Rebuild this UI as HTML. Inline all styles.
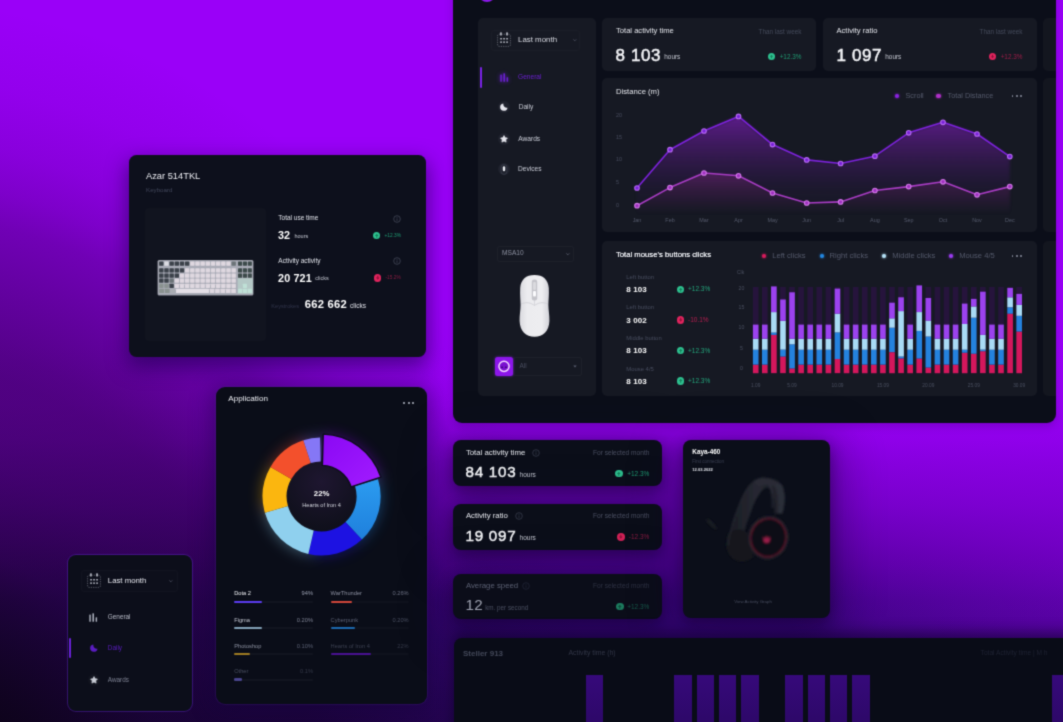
<!DOCTYPE html>
<html>
<head>
<meta charset="utf-8">
<title>Dashboard</title>
<style>
*{box-sizing:border-box;margin:0;padding:0}
html,body{width:1063px;height:722px;overflow:hidden}
body{font-family:"Liberation Sans",sans-serif;color:#fff;position:relative;
background:radial-gradient(ellipse 330px 260px at 1110px 560px,rgba(150,0,245,.38) 0%,rgba(150,0,245,.2) 50%,rgba(150,0,245,0) 100%),radial-gradient(ellipse 800px 1000px at -100px 900px,rgba(10,3,18,1) 15%,rgba(10,3,18,0.84) 23.8%,rgba(10,3,18,0.7) 30%,rgba(10,3,18,0.57) 36.4%,rgba(10,3,18,0.52) 45%,rgba(10,3,18,0.5) 53.6%,rgba(10,3,18,0.48) 56%,rgba(10,3,18,0.39) 62%,rgba(10,3,18,0.29) 68.4%,rgba(10,3,18,0.2) 71.8%,rgba(10,3,18,0.12) 76%,rgba(10,3,18,0.05) 82%,rgba(10,3,18,0) 90%),linear-gradient(180deg,#9a00f8 0%,#9a00f8 48%,#9600f2 56%,#8e00e8 61%,#8200d8 65%,#7400c6 70%,#5c00a6 77%,#44028a 83%,#38047a 88.6%,#2c0464 100%);}
#wrap{position:absolute;left:0;top:0;width:1063px;height:722px;filter:url(#soft)}
.abs{position:absolute}
.t{position:absolute;white-space:nowrap;line-height:1}
svg{position:absolute;overflow:visible}
</style>
</head>
<body>
<svg width="0" height="0" style="position:absolute"><defs><filter id="soft" x="0" y="0" width="100%" height="100%" color-interpolation-filters="sRGB"><feConvolveMatrix order="3" kernelMatrix="1 4 1 4 16 4 1 4 1" divisor="36" edgeMode="duplicate" preserveAlpha="false"/></filter></defs></svg>
<div id="wrap">
<div class="abs" style="left:453.0px;top:-20.0px;width:603.2px;height:442.5px;background:#0b0e19;border-radius:9px;box-shadow:0 3px 8px rgba(30,0,70,.22)"></div>
<div class="abs" style="left:479.0px;top:-14.0px;width:16.0px;height:16.0px;background:#8a18e8;border-radius:16px;"></div>
<div class="abs" style="left:478.0px;top:18.0px;width:118.0px;height:378.0px;background:#161923;border-radius:5px;"></div>
<div class="abs" style="left:491.0px;top:30.0px;width:89.0px;height:21.0px;background:transparent;border-radius:3px;border:1px solid rgba(255,255,255,.018)"></div>
<svg style="left:497.0px;top:32.0px" width="14" height="15" viewBox="0 0 14 15"><g fill="none" stroke="#c9ccd6" stroke-width="0.9" stroke-dasharray="1.2 1.1" opacity=".45"><rect x="0.6" y="2.2" width="12.8" height="12.2" rx="1.6"/></g><g fill="#c9ccd6"><rect x="3.2" y="0.2" width="1.5" height="3.4" rx=".6"/><rect x="9.3" y="0.2" width="1.5" height="3.4" rx=".6"/><rect x="3.3" y="6" width="1.5" height="1.5"/><rect x="6.3" y="6" width="1.5" height="1.5"/><rect x="9.3" y="6" width="1.5" height="1.5"/><rect x="3.3" y="9.4" width="1.5" height="1.5"/><rect x="6.3" y="9.4" width="1.5" height="1.5"/><rect x="9.3" y="9.4" width="1.5" height="1.5"/></g></svg>
<div class="t" style="left:518.0px;transform:translateY(-50%);top:39.7px;font-size:7.9px;color:#d9dbe3;font-weight:400;">Last month</div>
<svg style="left:572.5px;top:39px" width="3.6" height="2.2" viewBox="0 0 5 3"><path d="M0.5 0.5L2.5 2.5L4.5 0.5" fill="none" stroke="#5a5f70" stroke-width="1"/></svg>
<div class="abs" style="left:479.8px;top:66.5px;width:2.2px;height:21.0px;background:#7a22e6;border-radius:1px;"></div>
<svg style="left:500.0px;top:72.5px;filter:drop-shadow(0 0 2px #6a1fd0)" width="9" height="9" viewBox="0 0 9 9"><g fill="#6a1fd0"><rect x="0.3" y="1.5" width="1.5" height="7.2" rx=".5"/><rect x="3.4" y="0.2" width="1.6" height="8.5" rx=".5"/><rect x="6.6" y="4.2" width="1.5" height="4.5" rx=".5"/></g></svg>
<div class="t" style="left:518.0px;transform:translateY(-50%);top:76.8px;font-size:6.6px;color:#6a1fd0;font-weight:400;">General</div>
<div class="abs" style="left:498.0px;top:101.0px;width:12.0px;height:12.0px;background:#1f222d;border-radius:12px;"></div>
<svg style="left:499.7px;top:103.0px" width="8" height="8" viewBox="0 0 8 8"><path d="M3.3 0.5 A3.7 3.7 0 1 0 7.5 4.700 A3.7 3.7 0 0 1 3.3 0.5Z" fill="#e6e7ee"/></svg>
<div class="t" style="left:518.7px;transform:translateY(-50%);top:107.0px;font-size:6.6px;color:#c9ccd6;font-weight:400;">Daily</div>
<div class="abs" style="left:498.0px;top:133.0px;width:12.0px;height:12.0px;background:#1f222d;border-radius:12px;"></div>
<svg style="left:500.0px;top:135.0px" width="8" height="8" viewBox="0 0 8 8"><polygon points="4.00,0.60 5.12,2.66 7.42,3.09 5.81,4.79 6.12,7.11 4.00,6.10 1.88,7.11 2.19,4.79 0.58,3.09 2.88,2.66" fill="#e6e7ee" stroke="#e6e7ee" stroke-width=".7" stroke-linejoin="round"/></svg>
<div class="t" style="left:518.3px;transform:translateY(-50%);top:139.0px;font-size:6.6px;color:#c9ccd6;font-weight:400;">Awards</div>
<div class="abs" style="left:498.0px;top:163.0px;width:12.0px;height:12.0px;background:#1f222d;border-radius:12px;"></div>
<svg style="left:500px;top:163.5px" width="8" height="11" viewBox="0 0 8 11"><rect x="1" y="0.6" width="6" height="9.8" rx="3" fill="none" stroke="#3a3e4c" stroke-width=".8"/><rect x="2.8" y="2.2" width="2.4" height="5" rx="1.2" fill="#eceef4"/></svg>
<div class="t" style="left:518.0px;transform:translateY(-50%);top:169.0px;font-size:6.6px;color:#c9ccd6;font-weight:400;">Devices</div>
<div class="abs" style="left:497.0px;top:246.0px;width:77.0px;height:15.5px;background:transparent;border-radius:2.5px;border:1px solid rgba(255,255,255,.03)"></div>
<div class="t" style="left:502.0px;transform:translateY(-50%);top:253.3px;font-size:6.6px;color:#8d91a1;font-weight:400;">MSA10</div>
<svg style="left:565.5px;top:252.5px" width="3.6" height="2.2" viewBox="0 0 5 3"><path d="M0.5 0.5L2.5 2.5L4.5 0.5" fill="none" stroke="#6a6f80" stroke-width="1"/></svg>
<svg style="left:518px;top:273.5px" width="33" height="64" viewBox="0 0 33 64">
<defs><linearGradient id="mg" x1="0" x2="1"><stop offset="0" stop-color="#d9d9de"/><stop offset=".25" stop-color="#ececef"/><stop offset=".75" stop-color="#ededf0"/><stop offset="1" stop-color="#d2d2d8"/></linearGradient></defs>
<path d="M16.5 1 C8 1 2.8 5.5 2.2 14 C1.8 21 2.6 26 2.6 31 C2.6 36 1.4 41 1.6 47 C1.9 57 8 62.8 16.5 62.8 C25 62.8 31.1 57 31.4 47 C31.6 41 30.4 36 30.4 31 C30.4 26 31.2 21 30.8 14 C30.2 5.5 25 1 16.5 1Z" fill="url(#mg)"/>
<path d="M3 30 C9 27.5 13 29 16.5 31.5 C20 29 24 27.5 30 30" fill="none" stroke="#d0d0d6" stroke-width="0.9"/>
<path d="M16.5 31.5 L16.5 26" stroke="#d0d0d6" stroke-width=".7"/>
<rect x="13.8" y="5.5" width="5.4" height="21" rx="2.2" fill="#c4c4ca"/>
<rect x="15" y="8" width="3" height="8" rx="1.2" fill="#dadade"/>
<rect x="15" y="17" width="3" height="5.5" rx="1" fill="#fbfbfd"/>
</svg>
<div class="abs" style="left:513.0px;top:357.0px;width:69.0px;height:19.0px;background:transparent;border-radius:2.5px;border:1px solid rgba(255,255,255,.035)"></div>
<div class="abs" style="left:495.2px;top:357.0px;width:18.0px;height:18.6px;background:#8c16ea;border-radius:2.5px;box-shadow:0 0 3px rgba(150,40,255,.6)"></div>
<svg style="left:495.2px;top:357px" width="18" height="18.6" viewBox="0 0 18 18.6"><circle cx="9" cy="9.3" r="5.1" fill="#7a10d0" stroke="#f3d8ff" stroke-width="1.5"/><ellipse cx="7.1" cy="10.3" rx="1.1" ry=".8" fill="#3a0870"/><ellipse cx="10.9" cy="10.3" rx="1.1" ry=".8" fill="#3a0870"/></svg>
<div class="t" style="left:519.5px;transform:translateY(-50%);top:366.2px;font-size:6.4px;color:#4a4f60;font-weight:400;">All</div>
<svg style="left:572.5px;top:365px" width="4" height="3" viewBox="0 0 4 3"><path d="M0.3 0.4L2 2.4L3.7 0.4Z" fill="#5a5f70"/></svg>
<div class="abs" style="left:602.0px;top:17.5px;width:214.0px;height:53.5px;background:#161923;border-radius:5px;"></div>
<div class="abs" style="left:823.0px;top:17.5px;width:214.0px;height:53.5px;background:#161923;border-radius:5px;"></div>
<div class="abs" style="left:1042.5px;top:17.5px;width:13.7px;height:53.5px;background:#13161f;border-radius:5px 0 0 5px;"></div>
<div class="abs" style="left:1042.5px;top:78.0px;width:13.7px;height:154.0px;background:#13161f;border-radius:5px 0 0 5px;"></div>
<div class="abs" style="left:1042.5px;top:240.5px;width:13.7px;height:155.5px;background:#13161f;border-radius:5px 0 0 5px;"></div>
<div class="t" style="left:616.0px;transform:translateY(-50%);top:31.3px;font-size:7.6px;color:#e4e6ec;font-weight:400;">Total activity time</div>
<div class="t" style="right:261.5px;transform:translateY(-50%);top:31.5px;font-size:6.4px;color:#444a5b;font-weight:400;">Than last week</div>
<div class="t" style="left:615.5px;transform:translateY(-50%);top:55.2px;font-size:17px;color:#f4f5f8;font-weight:400;letter-spacing:0.6px;-webkit-text-stroke:.5px #f4f5f8;">8 103</div>
<div class="t" style="left:664.3px;transform:translateY(-50%);top:57.4px;font-size:6.4px;color:#c5c8d2;font-weight:400;">hours</div>
<div class="abs" style="left:768.0px;top:53.2px;width:7.0px;height:7.0px;background:#2ec08f;border-radius:7px;"></div>
<svg style="left:768.0px;top:53.2px" width="7.0" height="7.0" viewBox="0 0 8 8"><path d="M4 1.900 L6 4.200 L4.600 4.200 L4.600 6.100 L3.400 6.100 L3.400 4.200 L2 4.200 Z" fill="#15805c"/></svg>
<div class="t" style="right:261.5px;transform:translateY(-50%);top:56.7px;font-size:6.4px;color:#1f9c73;font-weight:400;">+12.3%</div>
<div class="t" style="left:836.5px;transform:translateY(-50%);top:31.3px;font-size:7.6px;color:#e4e6ec;font-weight:400;">Activity ratio</div>
<div class="t" style="right:40.5px;transform:translateY(-50%);top:31.5px;font-size:6.4px;color:#444a5b;font-weight:400;">Than last week</div>
<div class="t" style="left:836.5px;transform:translateY(-50%);top:55.2px;font-size:17px;color:#f4f5f8;font-weight:400;letter-spacing:0.6px;-webkit-text-stroke:.5px #f4f5f8;">1 097</div>
<div class="t" style="left:885.3px;transform:translateY(-50%);top:57.4px;font-size:6.4px;color:#c5c8d2;font-weight:400;">hours</div>
<div class="abs" style="left:989.0px;top:53.2px;width:7.0px;height:7.0px;background:#e0245e;border-radius:7px;"></div>
<svg style="left:989.0px;top:53.2px" width="7.0" height="7.0" viewBox="0 0 8 8"><path d="M4 1.900 L6 4.200 L4.600 4.200 L4.600 6.100 L3.400 6.100 L3.400 4.200 L2 4.200 Z" fill="#8e1238" transform="rotate(180 4 4)"/></svg>
<div class="t" style="right:40.5px;transform:translateY(-50%);top:56.7px;font-size:6.4px;color:#a01c48;font-weight:400;">+12.3%</div>
<div class="abs" style="left:602.0px;top:78.0px;width:435.0px;height:154.0px;background:#161923;border-radius:5px;"></div>
<div class="t" style="left:616.0px;transform:translateY(-50%);top:92.0px;font-size:7.7px;color:#e4e6ec;font-weight:400;">Distance (m)</div>
<div class="abs" style="left:894.9px;top:93.5px;width:4.2px;height:4.2px;background:#8a22e0;border-radius:4.2px;box-shadow:0 0 2.5px #8a22e0"></div>
<div class="t" style="left:905.5px;transform:translateY(-50%);top:95.6px;font-size:7.3px;color:#555a6c;font-weight:400;">Scroll</div>
<div class="abs" style="left:936.4px;top:93.5px;width:4.2px;height:4.2px;background:#b030c8;border-radius:4.2px;box-shadow:0 0 2.5px #b030c8"></div>
<div class="t" style="left:947.5px;transform:translateY(-50%);top:95.6px;font-size:7.3px;color:#555a6c;font-weight:400;">Total Distance</div>
<div class="abs" style="left:1011.6px;top:94.9px;width:1.8px;height:1.8px;background:#8d91a1;border-radius:1.8px;"></div>
<div class="abs" style="left:1015.9px;top:94.9px;width:1.8px;height:1.8px;background:#8d91a1;border-radius:1.8px;"></div>
<div class="abs" style="left:1020.2px;top:94.9px;width:1.8px;height:1.8px;background:#8d91a1;border-radius:1.8px;"></div>
<div class="t" style="left:616.0px;transform:translateY(-50%);top:116.4px;font-size:5.4px;color:#474c5e;font-weight:400;">20</div>
<div class="t" style="left:616.0px;transform:translateY(-50%);top:138.0px;font-size:5.4px;color:#474c5e;font-weight:400;">15</div>
<div class="t" style="left:616.0px;transform:translateY(-50%);top:160.0px;font-size:5.4px;color:#474c5e;font-weight:400;">10</div>
<div class="t" style="left:616.0px;transform:translateY(-50%);top:182.5px;font-size:5.4px;color:#474c5e;font-weight:400;">5</div>
<div class="t" style="left:616.0px;transform:translateY(-50%);top:205.7px;font-size:5.4px;color:#474c5e;font-weight:400;">0</div>
<div class="t" style="left:637.0px;transform:translate(-50%,-50%);top:220.5px;font-size:5.4px;color:#555a6c;font-weight:400;">Jan</div>
<div class="t" style="left:670.0px;transform:translate(-50%,-50%);top:220.5px;font-size:5.4px;color:#555a6c;font-weight:400;">Feb</div>
<div class="t" style="left:704.0px;transform:translate(-50%,-50%);top:220.5px;font-size:5.4px;color:#555a6c;font-weight:400;">Mar</div>
<div class="t" style="left:738.5px;transform:translate(-50%,-50%);top:220.5px;font-size:5.4px;color:#555a6c;font-weight:400;">Apr</div>
<div class="t" style="left:772.5px;transform:translate(-50%,-50%);top:220.5px;font-size:5.4px;color:#555a6c;font-weight:400;">May</div>
<div class="t" style="left:806.7px;transform:translate(-50%,-50%);top:220.5px;font-size:5.4px;color:#555a6c;font-weight:400;">Jun</div>
<div class="t" style="left:840.6px;transform:translate(-50%,-50%);top:220.5px;font-size:5.4px;color:#555a6c;font-weight:400;">Jul</div>
<div class="t" style="left:874.9px;transform:translate(-50%,-50%);top:220.5px;font-size:5.4px;color:#555a6c;font-weight:400;">Aug</div>
<div class="t" style="left:908.7px;transform:translate(-50%,-50%);top:220.5px;font-size:5.4px;color:#555a6c;font-weight:400;">Sep</div>
<div class="t" style="left:943.0px;transform:translate(-50%,-50%);top:220.5px;font-size:5.4px;color:#555a6c;font-weight:400;">Oct</div>
<div class="t" style="left:977.0px;transform:translate(-50%,-50%);top:220.5px;font-size:5.4px;color:#555a6c;font-weight:400;">Nov</div>
<div class="t" style="left:1009.8px;transform:translate(-50%,-50%);top:220.5px;font-size:5.4px;color:#555a6c;font-weight:400;">Dec</div>
<svg style="left:0;top:0" width="1063" height="722" viewBox="0 0 1063 722"><defs><linearGradient id="gu" x1="0" y1="0" x2="0" y2="1"><stop offset="0" stop-color="#8c1ed0" stop-opacity=".6"/><stop offset=".4" stop-color="#6e1aa4" stop-opacity=".34"/><stop offset=".75" stop-color="#521488" stop-opacity=".1"/><stop offset="1" stop-color="#4a1080" stop-opacity="0"/></linearGradient><linearGradient id="gl" x1="0" y1="0" x2="0" y2="1"><stop offset="0" stop-color="#c034b0" stop-opacity=".26"/><stop offset=".7" stop-color="#902488" stop-opacity=".09"/><stop offset="1" stop-color="#601070" stop-opacity="0"/></linearGradient></defs><filter id="fb" x="-5%" y="-40%" width="110%" height="180%" color-interpolation-filters="sRGB"><feGaussianBlur stdDeviation="1.6"/></filter><polygon points="637.0,188.0 670.0,149.7 704.0,131.0 738.5,116.4 772.5,144.6 806.7,159.9 840.6,163.5 874.9,156.2 908.7,132.8 943.0,122.3 977.0,134.0 1009.8,156.6 1009.8,214 637,214" fill="url(#gu)" filter="url(#fb)"/><polygon points="637.0,205.7 670.0,187.6 704.0,173.0 738.5,175.8 772.5,193.0 806.7,203.0 840.6,201.9 874.9,190.5 908.7,186.6 943.0,181.8 977.0,194.8 1009.8,186.6 1009.8,214 637,214" fill="url(#gl)" filter="url(#fb)"/><polyline points="637.0,188.0 670.0,149.7 704.0,131.0 738.5,116.4 772.5,144.6 806.7,159.9 840.6,163.5 874.9,156.2 908.7,132.8 943.0,122.3 977.0,134.0 1009.8,156.6" fill="none" stroke="#7d22dc" stroke-width="1.6" stroke-linejoin="round"/><polyline points="637.0,205.7 670.0,187.6 704.0,173.0 738.5,175.8 772.5,193.0 806.7,203.0 840.6,201.9 874.9,190.5 908.7,186.6 943.0,181.8 977.0,194.8 1009.8,186.6" fill="none" stroke="#a93cc4" stroke-width="1.6" stroke-linejoin="round"/><circle cx="637.0" cy="188.0" r="2.3" fill="#7a22d8" stroke="#b66af2" stroke-width="1.1"/><circle cx="670.0" cy="149.7" r="2.3" fill="#7a22d8" stroke="#b66af2" stroke-width="1.1"/><circle cx="704.0" cy="131.0" r="2.3" fill="#7a22d8" stroke="#b66af2" stroke-width="1.1"/><circle cx="738.5" cy="116.4" r="2.3" fill="#7a22d8" stroke="#b66af2" stroke-width="1.1"/><circle cx="772.5" cy="144.6" r="2.3" fill="#7a22d8" stroke="#b66af2" stroke-width="1.1"/><circle cx="806.7" cy="159.9" r="2.3" fill="#7a22d8" stroke="#b66af2" stroke-width="1.1"/><circle cx="840.6" cy="163.5" r="2.3" fill="#7a22d8" stroke="#b66af2" stroke-width="1.1"/><circle cx="874.9" cy="156.2" r="2.3" fill="#7a22d8" stroke="#b66af2" stroke-width="1.1"/><circle cx="908.7" cy="132.8" r="2.3" fill="#7a22d8" stroke="#b66af2" stroke-width="1.1"/><circle cx="943.0" cy="122.3" r="2.3" fill="#7a22d8" stroke="#b66af2" stroke-width="1.1"/><circle cx="977.0" cy="134.0" r="2.3" fill="#7a22d8" stroke="#b66af2" stroke-width="1.1"/><circle cx="1009.8" cy="156.6" r="2.3" fill="#7a22d8" stroke="#b66af2" stroke-width="1.1"/><circle cx="637.0" cy="205.7" r="2.3" fill="#a030c0" stroke="#d278e8" stroke-width="1.1"/><circle cx="670.0" cy="187.6" r="2.3" fill="#a030c0" stroke="#d278e8" stroke-width="1.1"/><circle cx="704.0" cy="173.0" r="2.3" fill="#a030c0" stroke="#d278e8" stroke-width="1.1"/><circle cx="738.5" cy="175.8" r="2.3" fill="#a030c0" stroke="#d278e8" stroke-width="1.1"/><circle cx="772.5" cy="193.0" r="2.3" fill="#a030c0" stroke="#d278e8" stroke-width="1.1"/><circle cx="806.7" cy="203.0" r="2.3" fill="#a030c0" stroke="#d278e8" stroke-width="1.1"/><circle cx="840.6" cy="201.9" r="2.3" fill="#a030c0" stroke="#d278e8" stroke-width="1.1"/><circle cx="874.9" cy="190.5" r="2.3" fill="#a030c0" stroke="#d278e8" stroke-width="1.1"/><circle cx="908.7" cy="186.6" r="2.3" fill="#a030c0" stroke="#d278e8" stroke-width="1.1"/><circle cx="943.0" cy="181.8" r="2.3" fill="#a030c0" stroke="#d278e8" stroke-width="1.1"/><circle cx="977.0" cy="194.8" r="2.3" fill="#a030c0" stroke="#d278e8" stroke-width="1.1"/><circle cx="1009.8" cy="186.6" r="2.3" fill="#a030c0" stroke="#d278e8" stroke-width="1.1"/></svg>
<div class="abs" style="left:602.0px;top:240.5px;width:435.4px;height:155.5px;background:#161923;border-radius:5px;"></div>
<div class="t" style="left:616.0px;transform:translateY(-50%);top:254.6px;font-size:7.7px;color:#eceef3;font-weight:400;text-shadow:0 0 .4px #eceef3;">Total mouse's buttons clicks</div>
<div class="t" style="left:626.3px;transform:translateY(-50%);top:277.5px;font-size:5.9px;color:#474c5e;font-weight:400;">Left button</div>
<div class="t" style="left:626.3px;transform:translateY(-50%);top:290.0px;font-size:8px;color:#fff;font-weight:700;letter-spacing:0.1px;">8 103</div>
<div class="abs" style="left:676.8px;top:285.7px;width:7.4px;height:7.4px;background:#2ec08f;border-radius:7.4px;"></div>
<svg style="left:676.8px;top:285.7px" width="7.4" height="7.4" viewBox="0 0 8 8"><path d="M4 1.900 L6 4.200 L4.600 4.200 L4.600 6.100 L3.400 6.100 L3.400 4.200 L2 4.200 Z" fill="#15805c"/></svg>
<div class="t" style="left:688.0px;transform:translateY(-50%);top:289.4px;font-size:6.5px;color:#23a57b;font-weight:400;">+12.3%</div>
<div class="t" style="left:626.3px;transform:translateY(-50%);top:308.0px;font-size:5.9px;color:#474c5e;font-weight:400;">Left button</div>
<div class="t" style="left:626.3px;transform:translateY(-50%);top:320.6px;font-size:8px;color:#fff;font-weight:700;letter-spacing:0.1px;">3 002</div>
<div class="abs" style="left:676.8px;top:316.3px;width:7.4px;height:7.4px;background:#e0245e;border-radius:7.4px;"></div>
<svg style="left:676.8px;top:316.3px" width="7.4" height="7.4" viewBox="0 0 8 8"><path d="M4 1.900 L6 4.200 L4.600 4.200 L4.600 6.100 L3.400 6.100 L3.400 4.200 L2 4.200 Z" fill="#8e1238" transform="rotate(180 4 4)"/></svg>
<div class="t" style="left:688.0px;transform:translateY(-50%);top:320.0px;font-size:6.5px;color:#b81e50;font-weight:400;">-10.1%</div>
<div class="t" style="left:626.3px;transform:translateY(-50%);top:339.0px;font-size:5.9px;color:#474c5e;font-weight:400;">Middle button</div>
<div class="t" style="left:626.3px;transform:translateY(-50%);top:351.2px;font-size:8px;color:#fff;font-weight:700;letter-spacing:0.1px;">8 103</div>
<div class="abs" style="left:676.8px;top:346.9px;width:7.4px;height:7.4px;background:#2ec08f;border-radius:7.4px;"></div>
<svg style="left:676.8px;top:346.9px" width="7.4" height="7.4" viewBox="0 0 8 8"><path d="M4 1.900 L6 4.200 L4.600 4.200 L4.600 6.100 L3.400 6.100 L3.400 4.200 L2 4.200 Z" fill="#15805c"/></svg>
<div class="t" style="left:688.0px;transform:translateY(-50%);top:350.6px;font-size:6.5px;color:#23a57b;font-weight:400;">+12.3%</div>
<div class="t" style="left:626.3px;transform:translateY(-50%);top:370.0px;font-size:5.9px;color:#474c5e;font-weight:400;">Mouse 4/5</div>
<div class="t" style="left:626.3px;transform:translateY(-50%);top:381.6px;font-size:8px;color:#fff;font-weight:700;letter-spacing:0.1px;">8 103</div>
<div class="abs" style="left:676.8px;top:377.3px;width:7.4px;height:7.4px;background:#2ec08f;border-radius:7.4px;"></div>
<svg style="left:676.8px;top:377.3px" width="7.4" height="7.4" viewBox="0 0 8 8"><path d="M4 1.900 L6 4.200 L4.600 4.200 L4.600 6.100 L3.400 6.100 L3.400 4.200 L2 4.200 Z" fill="#15805c"/></svg>
<div class="t" style="left:688.0px;transform:translateY(-50%);top:381.0px;font-size:6.5px;color:#23a57b;font-weight:400;">+12.3%</div>
<div class="abs" style="left:761.5px;top:253.7px;width:4.0px;height:4.0px;background:#d81b5c;border-radius:4px;box-shadow:0 0 2.5px #d81b5c"></div>
<div class="t" style="left:772.3px;transform:translateY(-50%);top:255.7px;font-size:7.6px;color:#555a6c;font-weight:400;">Left clicks</div>
<div class="abs" style="left:819.5px;top:253.7px;width:4.0px;height:4.0px;background:#2386e0;border-radius:4px;box-shadow:0 0 2.5px #2386e0"></div>
<div class="t" style="left:829.6px;transform:translateY(-50%);top:255.7px;font-size:7.6px;color:#555a6c;font-weight:400;">Right clicks</div>
<div class="abs" style="left:881.5px;top:253.7px;width:4.0px;height:4.0px;background:#b5e2f6;border-radius:4px;box-shadow:0 0 2.5px #b5e2f6"></div>
<div class="t" style="left:892.3px;transform:translateY(-50%);top:255.7px;font-size:7.6px;color:#555a6c;font-weight:400;">Middle clicks</div>
<div class="abs" style="left:949.0px;top:253.7px;width:4.0px;height:4.0px;background:#9a3cf0;border-radius:4px;box-shadow:0 0 2.5px #9a3cf0"></div>
<div class="t" style="left:959.3px;transform:translateY(-50%);top:255.7px;font-size:7.6px;color:#555a6c;font-weight:400;">Mouse 4/5</div>
<div class="abs" style="left:1011.6px;top:255.1px;width:1.8px;height:1.8px;background:#8d91a1;border-radius:1.8px;"></div>
<div class="abs" style="left:1015.9px;top:255.1px;width:1.8px;height:1.8px;background:#8d91a1;border-radius:1.8px;"></div>
<div class="abs" style="left:1020.2px;top:255.1px;width:1.8px;height:1.8px;background:#8d91a1;border-radius:1.8px;"></div>
<div class="t" style="left:737.0px;transform:translateY(-50%);top:271.6px;font-size:5px;color:#4a4f60;font-weight:400;">Clk</div>
<div class="t" style="left:741.5px;transform:translate(-50%,-50%);top:288.6px;font-size:5.2px;color:#4a4f60;font-weight:400;">20</div>
<div class="t" style="left:741.5px;transform:translate(-50%,-50%);top:308.4px;font-size:5.2px;color:#4a4f60;font-weight:400;">15</div>
<div class="t" style="left:741.5px;transform:translate(-50%,-50%);top:328.3px;font-size:5.2px;color:#4a4f60;font-weight:400;">10</div>
<div class="t" style="left:741.5px;transform:translate(-50%,-50%);top:348.7px;font-size:5.2px;color:#4a4f60;font-weight:400;">5</div>
<div class="t" style="left:741.5px;transform:translate(-50%,-50%);top:369.4px;font-size:5.2px;color:#4a4f60;font-weight:400;">0</div>
<div class="t" style="left:755.7px;transform:translate(-50%,-50%);top:385.8px;font-size:4.8px;color:#4a4f60;font-weight:400;">1.09</div>
<div class="t" style="left:792.0px;transform:translate(-50%,-50%);top:385.8px;font-size:4.8px;color:#4a4f60;font-weight:400;">5.09</div>
<div class="t" style="left:837.5px;transform:translate(-50%,-50%);top:385.8px;font-size:4.8px;color:#4a4f60;font-weight:400;">10.09</div>
<div class="t" style="left:882.9px;transform:translate(-50%,-50%);top:385.8px;font-size:4.8px;color:#4a4f60;font-weight:400;">15.09</div>
<div class="t" style="left:928.3px;transform:translate(-50%,-50%);top:385.8px;font-size:4.8px;color:#4a4f60;font-weight:400;">20.09</div>
<div class="t" style="left:973.8px;transform:translate(-50%,-50%);top:385.8px;font-size:4.8px;color:#4a4f60;font-weight:400;">25.09</div>
<div class="t" style="left:1019.2px;transform:translate(-50%,-50%);top:385.8px;font-size:4.8px;color:#4a4f60;font-weight:400;">30.09</div>
<svg style="left:0;top:0" width="1063" height="722" viewBox="0 0 1063 722"><rect x="752.90" y="287.0" width="5.6" height="86.2" fill="#26143c"/><rect x="752.90" y="364.7" width="5.6" height="8.5" fill="#d4175c"/><rect x="752.90" y="349.6" width="5.6" height="15.0" fill="#2482de"/><rect x="752.90" y="338.7" width="5.6" height="11.0" fill="#a9dbf5"/><rect x="752.90" y="324.6" width="5.6" height="14.1" fill="#9b42ee"/><rect x="761.99" y="287.0" width="5.6" height="86.2" fill="#26143c"/><rect x="761.99" y="364.7" width="5.6" height="8.5" fill="#d4175c"/><rect x="761.99" y="349.6" width="5.6" height="15.0" fill="#2482de"/><rect x="761.99" y="338.7" width="5.6" height="11.0" fill="#a9dbf5"/><rect x="761.99" y="324.6" width="5.6" height="14.1" fill="#9b42ee"/><rect x="771.07" y="287.0" width="5.6" height="86.2" fill="#26143c"/><rect x="771.07" y="334.9" width="5.6" height="38.2" fill="#d4175c"/><rect x="771.07" y="332.4" width="5.6" height="2.5" fill="#2482de"/><rect x="771.07" y="312.1" width="5.6" height="20.4" fill="#a9dbf5"/><rect x="771.07" y="286.4" width="5.6" height="25.7" fill="#9b42ee"/><rect x="780.16" y="287.0" width="5.6" height="86.2" fill="#26143c"/><rect x="780.16" y="356.5" width="5.6" height="16.6" fill="#d4175c"/><rect x="780.16" y="349.6" width="5.6" height="6.9" fill="#2482de"/><rect x="780.16" y="320.8" width="5.6" height="28.8" fill="#a9dbf5"/><rect x="780.16" y="299.5" width="5.6" height="21.3" fill="#9b42ee"/><rect x="789.24" y="287.0" width="5.6" height="86.2" fill="#26143c"/><rect x="789.24" y="368.4" width="5.6" height="4.7" fill="#d4175c"/><rect x="789.24" y="344.3" width="5.6" height="24.1" fill="#2482de"/><rect x="789.24" y="338.7" width="5.6" height="5.6" fill="#a9dbf5"/><rect x="789.24" y="292.3" width="5.6" height="46.4" fill="#9b42ee"/><rect x="798.33" y="287.0" width="5.6" height="86.2" fill="#26143c"/><rect x="798.33" y="364.7" width="5.6" height="8.5" fill="#d4175c"/><rect x="798.33" y="349.6" width="5.6" height="15.0" fill="#2482de"/><rect x="798.33" y="338.7" width="5.6" height="11.0" fill="#a9dbf5"/><rect x="798.33" y="324.6" width="5.6" height="14.1" fill="#9b42ee"/><rect x="807.42" y="287.0" width="5.6" height="86.2" fill="#26143c"/><rect x="807.42" y="364.7" width="5.6" height="8.5" fill="#d4175c"/><rect x="807.42" y="349.6" width="5.6" height="15.0" fill="#2482de"/><rect x="807.42" y="338.7" width="5.6" height="11.0" fill="#a9dbf5"/><rect x="807.42" y="324.6" width="5.6" height="14.1" fill="#9b42ee"/><rect x="816.50" y="287.0" width="5.6" height="86.2" fill="#26143c"/><rect x="816.50" y="364.7" width="5.6" height="8.5" fill="#d4175c"/><rect x="816.50" y="349.6" width="5.6" height="15.0" fill="#2482de"/><rect x="816.50" y="338.7" width="5.6" height="11.0" fill="#a9dbf5"/><rect x="816.50" y="324.6" width="5.6" height="14.1" fill="#9b42ee"/><rect x="825.59" y="287.0" width="5.6" height="86.2" fill="#26143c"/><rect x="825.59" y="364.7" width="5.6" height="8.5" fill="#d4175c"/><rect x="825.59" y="349.6" width="5.6" height="15.0" fill="#2482de"/><rect x="825.59" y="338.7" width="5.6" height="11.0" fill="#a9dbf5"/><rect x="825.59" y="324.6" width="5.6" height="14.1" fill="#9b42ee"/><rect x="834.67" y="287.0" width="5.6" height="86.2" fill="#26143c"/><rect x="834.67" y="359.0" width="5.6" height="14.1" fill="#d4175c"/><rect x="834.67" y="332.4" width="5.6" height="26.6" fill="#2482de"/><rect x="834.67" y="313.6" width="5.6" height="18.8" fill="#a9dbf5"/><rect x="834.67" y="288.6" width="5.6" height="25.1" fill="#9b42ee"/><rect x="843.76" y="287.0" width="5.6" height="86.2" fill="#26143c"/><rect x="843.76" y="364.7" width="5.6" height="8.5" fill="#d4175c"/><rect x="843.76" y="349.6" width="5.6" height="15.0" fill="#2482de"/><rect x="843.76" y="338.7" width="5.6" height="11.0" fill="#a9dbf5"/><rect x="843.76" y="324.6" width="5.6" height="14.1" fill="#9b42ee"/><rect x="852.85" y="287.0" width="5.6" height="86.2" fill="#26143c"/><rect x="852.85" y="364.7" width="5.6" height="8.5" fill="#d4175c"/><rect x="852.85" y="349.6" width="5.6" height="15.0" fill="#2482de"/><rect x="852.85" y="338.7" width="5.6" height="11.0" fill="#a9dbf5"/><rect x="852.85" y="324.6" width="5.6" height="14.1" fill="#9b42ee"/><rect x="861.93" y="287.0" width="5.6" height="86.2" fill="#26143c"/><rect x="861.93" y="364.7" width="5.6" height="8.5" fill="#d4175c"/><rect x="861.93" y="349.6" width="5.6" height="15.0" fill="#2482de"/><rect x="861.93" y="338.7" width="5.6" height="11.0" fill="#a9dbf5"/><rect x="861.93" y="324.6" width="5.6" height="14.1" fill="#9b42ee"/><rect x="871.02" y="287.0" width="5.6" height="86.2" fill="#26143c"/><rect x="871.02" y="364.7" width="5.6" height="8.5" fill="#d4175c"/><rect x="871.02" y="349.6" width="5.6" height="15.0" fill="#2482de"/><rect x="871.02" y="338.7" width="5.6" height="11.0" fill="#a9dbf5"/><rect x="871.02" y="324.6" width="5.6" height="14.1" fill="#9b42ee"/><rect x="880.10" y="287.0" width="5.6" height="86.2" fill="#26143c"/><rect x="880.10" y="364.7" width="5.6" height="8.5" fill="#d4175c"/><rect x="880.10" y="349.6" width="5.6" height="15.0" fill="#2482de"/><rect x="880.10" y="338.7" width="5.6" height="11.0" fill="#a9dbf5"/><rect x="880.10" y="324.6" width="5.6" height="14.1" fill="#9b42ee"/><rect x="889.19" y="287.0" width="5.6" height="86.2" fill="#26143c"/><rect x="889.19" y="352.2" width="5.6" height="21.0" fill="#d4175c"/><rect x="889.19" y="327.7" width="5.6" height="24.4" fill="#2482de"/><rect x="889.19" y="318.3" width="5.6" height="9.4" fill="#a9dbf5"/><rect x="889.19" y="302.7" width="5.6" height="15.7" fill="#9b42ee"/><rect x="898.28" y="287.0" width="5.6" height="86.2" fill="#26143c"/><rect x="898.28" y="358.4" width="5.6" height="14.7" fill="#d4175c"/><rect x="898.28" y="356.5" width="5.6" height="1.9" fill="#2482de"/><rect x="898.28" y="311.1" width="5.6" height="45.4" fill="#a9dbf5"/><rect x="898.28" y="297.3" width="5.6" height="13.8" fill="#9b42ee"/><rect x="907.36" y="287.0" width="5.6" height="86.2" fill="#26143c"/><rect x="907.36" y="364.7" width="5.6" height="8.5" fill="#d4175c"/><rect x="907.36" y="349.6" width="5.6" height="15.0" fill="#2482de"/><rect x="907.36" y="338.7" width="5.6" height="11.0" fill="#a9dbf5"/><rect x="907.36" y="324.6" width="5.6" height="14.1" fill="#9b42ee"/><rect x="916.45" y="287.0" width="5.6" height="86.2" fill="#26143c"/><rect x="916.45" y="358.4" width="5.6" height="14.7" fill="#d4175c"/><rect x="916.45" y="330.9" width="5.6" height="27.6" fill="#2482de"/><rect x="916.45" y="312.1" width="5.6" height="18.8" fill="#a9dbf5"/><rect x="916.45" y="285.4" width="5.6" height="26.6" fill="#9b42ee"/><rect x="925.53" y="287.0" width="5.6" height="86.2" fill="#26143c"/><rect x="925.53" y="367.5" width="5.6" height="5.6" fill="#d4175c"/><rect x="925.53" y="336.5" width="5.6" height="31.0" fill="#2482de"/><rect x="925.53" y="320.5" width="5.6" height="16.0" fill="#a9dbf5"/><rect x="925.53" y="298.0" width="5.6" height="22.6" fill="#9b42ee"/><rect x="934.62" y="287.0" width="5.6" height="86.2" fill="#26143c"/><rect x="934.62" y="364.7" width="5.6" height="8.5" fill="#d4175c"/><rect x="934.62" y="349.6" width="5.6" height="15.0" fill="#2482de"/><rect x="934.62" y="338.7" width="5.6" height="11.0" fill="#a9dbf5"/><rect x="934.62" y="324.6" width="5.6" height="14.1" fill="#9b42ee"/><rect x="943.71" y="287.0" width="5.6" height="86.2" fill="#26143c"/><rect x="943.71" y="364.7" width="5.6" height="8.5" fill="#d4175c"/><rect x="943.71" y="349.6" width="5.6" height="15.0" fill="#2482de"/><rect x="943.71" y="338.7" width="5.6" height="11.0" fill="#a9dbf5"/><rect x="943.71" y="324.6" width="5.6" height="14.1" fill="#9b42ee"/><rect x="952.79" y="287.0" width="5.6" height="86.2" fill="#26143c"/><rect x="952.79" y="364.7" width="5.6" height="8.5" fill="#d4175c"/><rect x="952.79" y="349.6" width="5.6" height="15.0" fill="#2482de"/><rect x="952.79" y="338.7" width="5.6" height="11.0" fill="#a9dbf5"/><rect x="952.79" y="324.6" width="5.6" height="14.1" fill="#9b42ee"/><rect x="961.88" y="287.0" width="5.6" height="86.2" fill="#26143c"/><rect x="961.88" y="352.8" width="5.6" height="20.4" fill="#d4175c"/><rect x="961.88" y="349.6" width="5.6" height="3.1" fill="#2482de"/><rect x="961.88" y="324.0" width="5.6" height="25.7" fill="#a9dbf5"/><rect x="961.88" y="303.6" width="5.6" height="20.4" fill="#9b42ee"/><rect x="970.96" y="287.0" width="5.6" height="86.2" fill="#26143c"/><rect x="970.96" y="353.7" width="5.6" height="19.4" fill="#d4175c"/><rect x="970.96" y="317.7" width="5.6" height="36.0" fill="#2482de"/><rect x="970.96" y="306.4" width="5.6" height="11.3" fill="#a9dbf5"/><rect x="970.96" y="298.9" width="5.6" height="7.5" fill="#9b42ee"/><rect x="980.05" y="287.0" width="5.6" height="86.2" fill="#26143c"/><rect x="980.05" y="351.2" width="5.6" height="21.9" fill="#d4175c"/><rect x="980.05" y="349.6" width="5.6" height="1.6" fill="#2482de"/><rect x="980.05" y="334.9" width="5.6" height="14.7" fill="#a9dbf5"/><rect x="980.05" y="291.7" width="5.6" height="43.2" fill="#9b42ee"/><rect x="989.14" y="287.0" width="5.6" height="86.2" fill="#26143c"/><rect x="989.14" y="364.7" width="5.6" height="8.5" fill="#d4175c"/><rect x="989.14" y="349.6" width="5.6" height="15.0" fill="#2482de"/><rect x="989.14" y="338.7" width="5.6" height="11.0" fill="#a9dbf5"/><rect x="989.14" y="324.6" width="5.6" height="14.1" fill="#9b42ee"/><rect x="998.22" y="287.0" width="5.6" height="86.2" fill="#26143c"/><rect x="998.22" y="364.7" width="5.6" height="8.5" fill="#d4175c"/><rect x="998.22" y="349.6" width="5.6" height="15.0" fill="#2482de"/><rect x="998.22" y="338.7" width="5.6" height="11.0" fill="#a9dbf5"/><rect x="998.22" y="324.6" width="5.6" height="14.1" fill="#9b42ee"/><rect x="1007.31" y="287.0" width="5.6" height="86.2" fill="#26143c"/><rect x="1007.31" y="313.6" width="5.6" height="59.5" fill="#d4175c"/><rect x="1007.31" y="307.4" width="5.6" height="6.3" fill="#2482de"/><rect x="1007.31" y="297.3" width="5.6" height="10.0" fill="#a9dbf5"/><rect x="1007.31" y="287.9" width="5.6" height="9.4" fill="#9b42ee"/><rect x="1016.39" y="287.0" width="5.6" height="86.2" fill="#26143c"/><rect x="1016.39" y="331.5" width="5.6" height="41.7" fill="#d4175c"/><rect x="1016.39" y="315.8" width="5.6" height="15.7" fill="#2482de"/><rect x="1016.39" y="304.8" width="5.6" height="11.0" fill="#a9dbf5"/><rect x="1016.39" y="293.9" width="5.6" height="11.0" fill="#9b42ee"/></svg>
<div class="abs" style="left:129.3px;top:155.0px;width:297.0px;height:202.0px;background:#0d101c;border-radius:7.5px;box-shadow:0 8px 20px 2px rgba(30,0,80,.6)"></div>
<div class="t" style="left:146.0px;transform:translateY(-50%);top:176.5px;font-size:9.3px;color:#eeeff4;font-weight:400;">Azar 514TKL</div>
<div class="t" style="left:146.0px;transform:translateY(-50%);top:190.2px;font-size:6.2px;color:#41465a;font-weight:400;">Keyboard</div>
<div class="abs" style="left:145.0px;top:208.0px;width:120.5px;height:132.5px;background:#11141f;border-radius:4px;"></div>
<svg style="left:157.0px;top:260.4px" width="97.0" height="35.6" viewBox="0 0 97 36"><rect x="0" y="0" width="97" height="36" rx="1.6" fill="#9698a3"/><rect x="0.6" y="0.6" width="95.8" height="34.6" rx="1.4" fill="#a9abb6"/><rect x="1.60" y="1.60" width="4.43" height="4.30" rx=".5" fill="#3b4149"/><rect x="6.83" y="1.60" width="4.43" height="4.30" rx=".5" fill="#dcdce2"/><rect x="12.05" y="1.60" width="4.43" height="4.30" rx=".5" fill="#3b4149"/><rect x="17.28" y="1.60" width="4.43" height="4.30" rx=".5" fill="#3b4149"/><rect x="22.51" y="1.60" width="4.43" height="4.30" rx=".5" fill="#3b4149"/><rect x="27.73" y="1.60" width="4.43" height="4.30" rx=".5" fill="#3b4149"/><rect x="32.96" y="1.60" width="4.43" height="4.30" rx=".5" fill="#dfd8e0"/><rect x="38.19" y="1.60" width="4.43" height="4.30" rx=".5" fill="#dfd8e0"/><rect x="43.41" y="1.60" width="4.43" height="4.30" rx=".5" fill="#dfd8e0"/><rect x="48.64" y="1.60" width="4.43" height="4.30" rx=".5" fill="#dfd8e0"/><rect x="53.87" y="1.60" width="4.43" height="4.30" rx=".5" fill="#dfd8e0"/><rect x="59.09" y="1.60" width="4.43" height="4.30" rx=".5" fill="#dfd8e0"/><rect x="64.32" y="1.60" width="4.43" height="4.30" rx=".5" fill="#dfd8e0"/><rect x="69.55" y="1.60" width="4.43" height="4.30" rx=".5" fill="#dfd8e0"/><rect x="74.77" y="1.60" width="4.43" height="4.30" rx=".5" fill="#6b7377"/><rect x="1.60" y="8.40" width="4.43" height="4.30" rx=".5" fill="#3b4149"/><rect x="6.83" y="8.40" width="4.43" height="4.30" rx=".5" fill="#3b4149"/><rect x="12.05" y="8.40" width="4.43" height="4.30" rx=".5" fill="#3b4149"/><rect x="17.28" y="8.40" width="4.43" height="4.30" rx=".5" fill="#3b4149"/><rect x="22.51" y="8.40" width="4.43" height="4.30" rx=".5" fill="#3b4149"/><rect x="27.73" y="8.40" width="4.43" height="4.30" rx=".5" fill="#dfd8e0"/><rect x="32.96" y="8.40" width="4.43" height="4.30" rx=".5" fill="#dfd8e0"/><rect x="38.19" y="8.40" width="4.43" height="4.30" rx=".5" fill="#dfd8e0"/><rect x="43.41" y="8.40" width="4.43" height="4.30" rx=".5" fill="#dfd8e0"/><rect x="48.64" y="8.40" width="4.43" height="4.30" rx=".5" fill="#dfd8e0"/><rect x="53.87" y="8.40" width="4.43" height="4.30" rx=".5" fill="#dfd8e0"/><rect x="59.09" y="8.40" width="4.43" height="4.30" rx=".5" fill="#dfd8e0"/><rect x="64.32" y="8.40" width="4.43" height="4.30" rx=".5" fill="#dfd8e0"/><rect x="69.55" y="8.40" width="4.43" height="4.30" rx=".5" fill="#dfd8e0"/><rect x="74.77" y="8.40" width="4.43" height="4.30" rx=".5" fill="#dfd8e0"/><rect x="1.60" y="13.60" width="4.43" height="4.30" rx=".5" fill="#3b4149"/><rect x="6.83" y="13.60" width="4.43" height="4.30" rx=".5" fill="#3b4149"/><rect x="12.05" y="13.60" width="4.43" height="4.30" rx=".5" fill="#3b4149"/><rect x="17.28" y="13.60" width="4.43" height="4.30" rx=".5" fill="#3b4149"/><rect x="22.51" y="13.60" width="4.43" height="4.30" rx=".5" fill="#dfd8e0"/><rect x="27.73" y="13.60" width="4.43" height="4.30" rx=".5" fill="#dfd8e0"/><rect x="32.96" y="13.60" width="4.43" height="4.30" rx=".5" fill="#dfd8e0"/><rect x="38.19" y="13.60" width="4.43" height="4.30" rx=".5" fill="#dfd8e0"/><rect x="43.41" y="13.60" width="4.43" height="4.30" rx=".5" fill="#dfd8e0"/><rect x="48.64" y="13.60" width="4.43" height="4.30" rx=".5" fill="#dfd8e0"/><rect x="53.87" y="13.60" width="4.43" height="4.30" rx=".5" fill="#dfd8e0"/><rect x="59.09" y="13.60" width="4.43" height="4.30" rx=".5" fill="#dfd8e0"/><rect x="64.32" y="13.60" width="4.43" height="4.30" rx=".5" fill="#dfd8e0"/><rect x="69.55" y="13.60" width="4.43" height="4.30" rx=".5" fill="#dfd8e0"/><rect x="74.77" y="13.60" width="4.43" height="4.30" rx=".5" fill="#dfd8e0"/><rect x="1.60" y="18.80" width="4.43" height="4.30" rx=".5" fill="#3b4149"/><rect x="6.83" y="18.80" width="4.43" height="4.30" rx=".5" fill="#3b4149"/><rect x="12.05" y="18.80" width="4.43" height="4.30" rx=".5" fill="#6b7377"/><rect x="17.28" y="18.80" width="4.43" height="4.30" rx=".5" fill="#dfd8e0"/><rect x="22.51" y="18.80" width="4.43" height="4.30" rx=".5" fill="#dfd8e0"/><rect x="27.73" y="18.80" width="4.43" height="4.30" rx=".5" fill="#dfd8e0"/><rect x="32.96" y="18.80" width="4.43" height="4.30" rx=".5" fill="#dfd8e0"/><rect x="38.19" y="18.80" width="4.43" height="4.30" rx=".5" fill="#dfd8e0"/><rect x="43.41" y="18.80" width="4.43" height="4.30" rx=".5" fill="#dfd8e0"/><rect x="48.64" y="18.80" width="4.43" height="4.30" rx=".5" fill="#dfd8e0"/><rect x="53.87" y="18.80" width="4.43" height="4.30" rx=".5" fill="#dfd8e0"/><rect x="59.09" y="18.80" width="4.43" height="4.30" rx=".5" fill="#dfd8e0"/><rect x="64.32" y="18.80" width="4.43" height="4.30" rx=".5" fill="#dfd8e0"/><rect x="69.55" y="18.80" width="4.43" height="4.30" rx=".5" fill="#dfd8e0"/><rect x="74.77" y="18.80" width="4.43" height="4.30" rx=".5" fill="#dfd8e0"/><rect x="1.60" y="24.00" width="4.43" height="4.30" rx=".5" fill="#8a9290"/><rect x="6.83" y="24.00" width="4.43" height="4.30" rx=".5" fill="#8a9290"/><rect x="12.05" y="24.00" width="4.43" height="4.30" rx=".5" fill="#3b4149"/><rect x="17.28" y="24.00" width="4.43" height="4.30" rx=".5" fill="#dfd8e0"/><rect x="22.51" y="24.00" width="4.43" height="4.30" rx=".5" fill="#dfd8e0"/><rect x="27.73" y="24.00" width="4.43" height="4.30" rx=".5" fill="#dfd8e0"/><rect x="32.96" y="24.00" width="4.43" height="4.30" rx=".5" fill="#dfd8e0"/><rect x="38.19" y="24.00" width="4.43" height="4.30" rx=".5" fill="#dfd8e0"/><rect x="43.41" y="24.00" width="4.43" height="4.30" rx=".5" fill="#dfd8e0"/><rect x="48.64" y="24.00" width="4.43" height="4.30" rx=".5" fill="#dfd8e0"/><rect x="53.87" y="24.00" width="4.43" height="4.30" rx=".5" fill="#dfd8e0"/><rect x="59.09" y="24.00" width="4.43" height="4.30" rx=".5" fill="#dfd8e0"/><rect x="64.32" y="24.00" width="4.43" height="4.30" rx=".5" fill="#dfd8e0"/><rect x="69.55" y="24.00" width="4.43" height="4.30" rx=".5" fill="#dfd8e0"/><rect x="74.77" y="24.00" width="4.43" height="4.30" rx=".5" fill="#dfd8e0"/><rect x="1.60" y="29.20" width="4.90" height="4.30" rx=".5" fill="#8a9290"/><rect x="7.30" y="29.20" width="4.90" height="4.30" rx=".5" fill="#8a9290"/><rect x="13.00" y="29.20" width="4.90" height="4.30" rx=".5" fill="#a9acb2"/><rect x="18.70" y="29.20" width="33.30" height="4.30" rx=".5" fill="#e4dfe6"/><rect x="52.80" y="29.20" width="4.64" height="4.30" rx=".5" fill="#dfd8e0"/><rect x="58.24" y="29.20" width="4.64" height="4.30" rx=".5" fill="#dfd8e0"/><rect x="63.68" y="29.20" width="4.64" height="4.30" rx=".5" fill="#dfd8e0"/><rect x="69.12" y="29.20" width="4.64" height="4.30" rx=".5" fill="#dfd8e0"/><rect x="74.56" y="29.20" width="4.64" height="4.30" rx=".5" fill="#dfd8e0"/><rect x="81" y="18.4" width="15.4" height="15.6" fill="#b4c8c6"/><rect x="81.40" y="1.60" width="4.13" height="4.30" rx=".5" fill="#3c4a4a"/><rect x="86.33" y="1.60" width="4.13" height="4.30" rx=".5" fill="#3c4a4a"/><rect x="91.27" y="1.60" width="4.13" height="4.30" rx=".5" fill="#3c4a4a"/><rect x="81.40" y="8.40" width="4.13" height="4.30" rx=".5" fill="#3c4a4a"/><rect x="86.33" y="8.40" width="4.13" height="4.30" rx=".5" fill="#3c4a4a"/><rect x="91.27" y="8.40" width="4.13" height="4.30" rx=".5" fill="#3c4a4a"/><rect x="81.40" y="13.60" width="4.13" height="4.30" rx=".5" fill="#3c4a4a"/><rect x="86.33" y="13.60" width="4.13" height="4.30" rx=".5" fill="#3c4a4a"/><rect x="91.27" y="13.60" width="4.13" height="4.30" rx=".5" fill="#3c4a4a"/><rect x="86.33" y="24.00" width="4.13" height="4.30" rx=".5" fill="#bfe0d6"/><rect x="81.40" y="29.20" width="4.13" height="4.30" rx=".5" fill="#bfe0d6"/><rect x="86.33" y="29.20" width="4.13" height="4.30" rx=".5" fill="#bfe0d6"/><rect x="91.27" y="29.20" width="4.13" height="4.30" rx=".5" fill="#bfe0d6"/></svg>
<div class="t" style="left:278.3px;transform:translateY(-50%);top:218.3px;font-size:6.5px;color:#e1e3ea;font-weight:400;">Total use time</div>
<svg style="left:393.3px;top:214.6px" width="8" height="8" viewBox="0 0 8 8"><circle cx="4" cy="4" r="3.3" fill="none" stroke="#4a4f60" stroke-width=".7"/><rect x="3.65" y="3.4" width=".7" height="2.4" fill="#4a4f60"/><rect x="3.65" y="2.1" width=".7" height=".8" fill="#4a4f60"/></svg>
<div class="t" style="left:278.0px;transform:translateY(-50%);top:234.9px;font-size:10.8px;color:#fff;font-weight:700;">32</div>
<div class="t" style="left:294.5px;transform:translateY(-50%);top:236.8px;font-size:5.5px;color:#c5c8d2;font-weight:400;">hours</div>
<div class="abs" style="left:372.5px;top:231.8px;width:7.6px;height:7.6px;background:#2ec08f;border-radius:7.6px;"></div>
<svg style="left:372.5px;top:231.8px" width="7.6" height="7.6" viewBox="0 0 8 8"><path d="M4 1.900 L6 4.200 L4.600 4.200 L4.600 6.100 L3.400 6.100 L3.400 4.200 L2 4.200 Z" fill="#15805c"/></svg>
<div class="t" style="left:384.5px;transform:translateY(-50%);top:235.8px;font-size:4.8px;color:#1f9c73;font-weight:400;">+12.3%</div>
<div class="t" style="left:278.3px;transform:translateY(-50%);top:260.8px;font-size:6.5px;color:#e1e3ea;font-weight:400;">Activity activity</div>
<svg style="left:393.3px;top:257.0px" width="8" height="8" viewBox="0 0 8 8"><circle cx="4" cy="4" r="3.3" fill="none" stroke="#4a4f60" stroke-width=".7"/><rect x="3.65" y="3.4" width=".7" height="2.4" fill="#4a4f60"/><rect x="3.65" y="2.1" width=".7" height=".8" fill="#4a4f60"/></svg>
<div class="t" style="left:278.0px;transform:translateY(-50%);top:277.5px;font-size:10.8px;color:#fff;font-weight:700;letter-spacing:0.15px;">20 721</div>
<div class="t" style="left:315.3px;transform:translateY(-50%);top:279.3px;font-size:5.5px;color:#c5c8d2;font-weight:400;">clicks</div>
<div class="abs" style="left:373.9px;top:274.4px;width:7.6px;height:7.6px;background:#e0245e;border-radius:7.6px;"></div>
<svg style="left:373.9px;top:274.4px" width="7.6" height="7.6" viewBox="0 0 8 8"><path d="M4 1.900 L6 4.200 L4.600 4.200 L4.600 6.100 L3.400 6.100 L3.400 4.200 L2 4.200 Z" fill="#8e1238" transform="rotate(180 4 4)"/></svg>
<div class="t" style="left:385.5px;transform:translateY(-50%);top:278.4px;font-size:4.8px;color:#8a1c42;font-weight:400;">-15.2%</div>
<div class="t" style="left:271.3px;transform:translateY(-50%);top:306.7px;font-size:5.6px;color:#30344a;font-weight:400;">Keystrokes</div>
<div class="t" style="left:304.7px;transform:translateY(-50%);top:304.9px;font-size:11.2px;color:#fff;font-weight:700;letter-spacing:0.25px;">662 662</div>
<div class="t" style="left:350.0px;transform:translateY(-50%);top:306.0px;font-size:6.6px;color:#dfe1e8;font-weight:400;">clicks</div>
<div class="abs" style="left:216.0px;top:387.0px;width:211.0px;height:316.5px;background:#0a0d18;border-radius:9px;box-shadow:0 0 0 1px rgba(80,40,150,.22),0 2px 22px 4px rgba(20,0,60,.45)"></div>
<div class="t" style="left:228.3px;transform:translateY(-50%);top:399.3px;font-size:8.1px;color:#eceef3;font-weight:400;">Application</div>
<div class="abs" style="left:403.4px;top:401.9px;width:1.9px;height:1.9px;background:#b9bcc8;border-radius:1.9px;"></div>
<div class="abs" style="left:407.8px;top:401.9px;width:1.9px;height:1.9px;background:#b9bcc8;border-radius:1.9px;"></div>
<div class="abs" style="left:412.2px;top:401.9px;width:1.9px;height:1.9px;background:#b9bcc8;border-radius:1.9px;"></div>
<svg style="left:0;top:0" width="1063" height="722" viewBox="0 0 1063 722"><defs><linearGradient id="dg1" x1="0" y1="0" x2="0" y2="1"><stop offset="0" stop-color="#2b9cf0"/><stop offset="1" stop-color="#1f7fdc"/></linearGradient><linearGradient id="dg0" x1="0" y1="0" x2="1" y2="1"><stop offset="0" stop-color="#8a08f4"/><stop offset="1" stop-color="#a21cff"/></linearGradient><radialGradient id="dgc" cx=".5" cy=".3" r=".75"><stop offset="0" stop-color="#1e1630"/><stop offset="1" stop-color="#0d0f18"/></radialGradient><filter id="blur8" x="-30%" y="-30%" width="160%" height="160%"><feGaussianBlur stdDeviation="7"/></filter></defs><g filter="url(#blur8)" opacity=".38"><path d="M378.98 478.86 A60.00 60.00 0 0 1 362.52 540.28 L348.88 525.65 A40.00 40.00 0 0 0 359.85 484.71 Z" fill="url(#dg1)"/><path d="M362.52 540.28 A60.00 60.00 0 0 1 308.10 554.86 L312.60 535.37 A40.00 40.00 0 0 0 348.88 525.65 Z" fill="#1d12e2"/><path d="M308.10 554.86 A60.00 60.00 0 0 1 263.92 512.94 L283.15 507.43 A40.00 40.00 0 0 0 312.60 535.37 Z" fill="#8fd0ee"/><path d="M263.92 512.94 A60.00 60.00 0 0 1 269.64 466.40 L286.96 476.40 A40.00 40.00 0 0 0 283.15 507.43 Z" fill="#fbb60f"/><path d="M269.64 466.40 A60.00 60.00 0 0 1 303.06 439.34 L309.24 458.36 A40.00 40.00 0 0 0 286.96 476.40 Z" fill="#f3502c"/><path d="M303.06 439.34 A60.00 60.00 0 0 1 320.03 436.42 L320.55 456.41 A40.00 40.00 0 0 0 309.24 458.36 Z" fill="#8577f6"/><path d="M323.23 434.12 A62.30 62.30 0 0 1 380.85 477.15 L351.08 486.82 A31.00 31.00 0 0 0 322.41 465.41 Z" fill="#9010f8"/></g><circle cx="321.6" cy="496.4" r="36" fill="url(#dgc)"/><path d="M378.02 479.15 A59.00 59.00 0 0 1 361.84 539.55 L345.47 522.00 A35.00 35.00 0 0 0 355.07 486.17 Z" fill="url(#dg1)"/><path d="M361.84 539.55 A59.00 59.00 0 0 1 308.33 553.89 L313.73 530.50 A35.00 35.00 0 0 0 345.47 522.00 Z" fill="#1d12e2"/><path d="M308.33 553.89 A59.00 59.00 0 0 1 264.89 512.66 L287.96 506.05 A35.00 35.00 0 0 0 313.73 530.50 Z" fill="#8fd0ee"/><path d="M264.89 512.66 A59.00 59.00 0 0 1 270.50 466.90 L291.29 478.90 A35.00 35.00 0 0 0 287.96 506.05 Z" fill="#fbb60f"/><path d="M270.50 466.90 A59.00 59.00 0 0 1 303.37 440.29 L310.78 463.11 A35.00 35.00 0 0 0 291.29 478.90 Z" fill="#f3502c"/><path d="M303.37 440.29 A59.00 59.00 0 0 1 320.06 437.42 L320.68 461.41 A35.00 35.00 0 0 0 310.78 463.11 Z" fill="#8577f6"/><path d="M323.23 434.12 A62.30 62.30 0 0 1 380.85 477.15 L351.08 486.82 A31.00 31.00 0 0 0 322.41 465.41 Z" fill="url(#dg0)" stroke="#0a0d18" stroke-width="1.4" stroke-linejoin="round"/></svg>
<div class="t" style="left:321.6px;transform:translate(-50%,-50%);top:494.0px;font-size:7.8px;color:#fff;font-weight:700;">22%</div>
<div class="t" style="left:321.6px;transform:translate(-50%,-50%);top:506.0px;font-size:5.6px;color:#d5d7df;font-weight:400;">Hearts of Iron 4</div>
<div class="t" style="left:234.2px;transform:translateY(-50%);top:594.4px;font-size:5.7px;color:#f1f2f6;font-weight:400;">Dota 2</div>
<div class="t" style="right:750.0px;transform:translateY(-50%);top:594.4px;font-size:5.7px;color:#9a9fb0;font-weight:400;">94%</div>
<div class="abs" style="left:234.2px;top:601.0px;width:79.0px;height:2.0px;background:rgba(255,255,255,.03);border-radius:1px;"></div>
<div class="abs" style="left:234.2px;top:600.9px;width:28.0px;height:2.6px;background:#5b3cf0;border-radius:1.3px;opacity:1"></div>
<div class="t" style="left:234.2px;transform:translateY(-50%);top:620.7px;font-size:5.7px;color:#c5c8d2;font-weight:400;">Figma</div>
<div class="t" style="right:750.0px;transform:translateY(-50%);top:620.7px;font-size:5.7px;color:#7d8192;font-weight:400;">0.20%</div>
<div class="abs" style="left:234.2px;top:626.8px;width:79.0px;height:2.0px;background:rgba(255,255,255,.03);border-radius:1px;"></div>
<div class="abs" style="left:234.2px;top:626.7px;width:28.0px;height:2.6px;background:#9fc4dc;border-radius:1.3px;opacity:0.8"></div>
<div class="t" style="left:234.2px;transform:translateY(-50%);top:646.5px;font-size:5.7px;color:#8d91a1;font-weight:400;">Photoshop</div>
<div class="t" style="right:750.0px;transform:translateY(-50%);top:646.5px;font-size:5.7px;color:#5b6073;font-weight:400;">0.10%</div>
<div class="abs" style="left:234.2px;top:652.6px;width:79.0px;height:2.0px;background:rgba(255,255,255,.03);border-radius:1px;"></div>
<div class="abs" style="left:234.2px;top:652.5px;width:16.0px;height:2.6px;background:#dca623;border-radius:1.3px;opacity:0.7"></div>
<div class="t" style="left:234.2px;transform:translateY(-50%);top:672.4px;font-size:5.7px;color:#4a4f60;font-weight:400;">Other</div>
<div class="t" style="right:750.0px;transform:translateY(-50%);top:672.4px;font-size:5.7px;color:#343848;font-weight:400;">0.1%</div>
<div class="abs" style="left:234.2px;top:678.5px;width:79.0px;height:2.0px;background:rgba(255,255,255,.03);border-radius:1px;"></div>
<div class="abs" style="left:234.2px;top:678.4px;width:7.5px;height:2.6px;background:#6f66d8;border-radius:1.3px;opacity:0.6"></div>
<div class="t" style="left:330.6px;transform:translateY(-50%);top:594.4px;font-size:5.7px;color:#8d91a1;font-weight:400;">WarThunder</div>
<div class="t" style="right:654.4px;transform:translateY(-50%);top:594.4px;font-size:5.7px;color:#6a6f80;font-weight:400;">0.26%</div>
<div class="abs" style="left:330.6px;top:601.0px;width:78.0px;height:2.0px;background:rgba(255,255,255,.025);border-radius:1px;"></div>
<div class="abs" style="left:330.6px;top:600.9px;width:21.5px;height:2.6px;background:#dc4a3c;border-radius:1.3px;opacity:0.95"></div>
<div class="t" style="left:330.6px;transform:translateY(-50%);top:620.7px;font-size:5.7px;color:#5b6073;font-weight:400;">Cyberpunk</div>
<div class="t" style="right:654.4px;transform:translateY(-50%);top:620.7px;font-size:5.7px;color:#4a4f60;font-weight:400;">0.20%</div>
<div class="abs" style="left:330.6px;top:626.8px;width:78.0px;height:2.0px;background:rgba(255,255,255,.025);border-radius:1px;"></div>
<div class="abs" style="left:330.6px;top:626.7px;width:24.5px;height:2.6px;background:#1e78c8;border-radius:1.3px;opacity:0.85"></div>
<div class="t" style="left:330.6px;transform:translateY(-50%);top:646.5px;font-size:5.7px;color:#3c4051;font-weight:400;">Hearts of Iron 4</div>
<div class="t" style="right:654.4px;transform:translateY(-50%);top:646.5px;font-size:5.7px;color:#343848;font-weight:400;">22%</div>
<div class="abs" style="left:330.6px;top:652.6px;width:78.0px;height:2.0px;background:rgba(255,255,255,.025);border-radius:1px;"></div>
<div class="abs" style="left:330.6px;top:652.5px;width:40.0px;height:2.6px;background:#5812b0;border-radius:1.3px;opacity:0.8"></div>
<div class="abs" style="left:68.0px;top:555.3px;width:123.6px;height:155.5px;background:#0c0e1a;border-radius:8px;box-shadow:0 0 0 1px rgba(90,40,190,.45)"></div>
<div class="abs" style="left:81.2px;top:570.0px;width:97.0px;height:21.8px;background:#0d0f1b;border-radius:3px;border:1px solid rgba(255,255,255,.025)"></div>
<svg style="left:87.2px;top:573.2px" width="14" height="15" viewBox="0 0 14 15"><g fill="none" stroke="#c9ccd6" stroke-width="0.9" stroke-dasharray="1.2 1.1" opacity=".45"><rect x="0.6" y="2.2" width="12.8" height="12.2" rx="1.6"/></g><g fill="#c9ccd6"><rect x="3.2" y="0.2" width="1.5" height="3.4" rx=".6"/><rect x="9.3" y="0.2" width="1.5" height="3.4" rx=".6"/><rect x="3.3" y="6" width="1.5" height="1.5"/><rect x="6.3" y="6" width="1.5" height="1.5"/><rect x="9.3" y="6" width="1.5" height="1.5"/><rect x="3.3" y="9.4" width="1.5" height="1.5"/><rect x="6.3" y="9.4" width="1.5" height="1.5"/><rect x="9.3" y="9.4" width="1.5" height="1.5"/></g></svg>
<div class="t" style="left:107.8px;transform:translateY(-50%);top:580.5px;font-size:7.8px;color:#e6e7ee;font-weight:400;">Last month</div>
<svg style="left:169.3px;top:579.8px" width="3.6" height="2.2" viewBox="0 0 5 3"><path d="M0.5 0.5L2.5 2.5L4.5 0.5" fill="none" stroke="#5a5f70" stroke-width="1"/></svg>
<svg style="left:89.0px;top:612.6px;" width="9" height="9" viewBox="0 0 9 9"><g fill="#a9adba"><rect x="0.3" y="1.5" width="1.5" height="7.2" rx=".5"/><rect x="3.4" y="0.2" width="1.6" height="8.5" rx=".5"/><rect x="6.6" y="4.2" width="1.5" height="4.5" rx=".5"/></g></svg>
<div class="t" style="left:107.8px;transform:translateY(-50%);top:617.0px;font-size:6.4px;color:#b9bcc8;font-weight:400;">General</div>
<div class="abs" style="left:68.6px;top:637.7px;width:2.4px;height:20.0px;background:#6a20d8;border-radius:1px;"></div>
<svg style="left:90.2px;top:643.6px" width="8" height="8" viewBox="0 0 8 8"><path d="M3.3 0.5 A3.7 3.7 0 1 0 7.5 4.700 A3.7 3.7 0 0 1 3.3 0.5Z" fill="#5a1cc0"/></svg>
<div class="t" style="left:107.8px;transform:translateY(-50%);top:647.8px;font-size:6.4px;color:#5a1cc0;font-weight:400;">Daily</div>
<div class="abs" style="left:87.7px;top:673.5px;width:12.0px;height:12.0px;background:#12141f;border-radius:12px;"></div>
<svg style="left:89.7px;top:675.5px" width="8" height="8" viewBox="0 0 8 8"><polygon points="4.00,0.60 5.12,2.66 7.42,3.09 5.81,4.79 6.12,7.11 4.00,6.10 1.88,7.11 2.19,4.79 0.58,3.09 2.88,2.66" fill="#c9ccd6" stroke="#c9ccd6" stroke-width=".7" stroke-linejoin="round"/></svg>
<div class="t" style="left:107.8px;transform:translateY(-50%);top:679.5px;font-size:6.4px;color:#7d8192;font-weight:400;">Awards</div>
<div class="abs" style="left:453.4px;top:440.0px;width:208.4px;height:46.2px;background:#0b0e19;border-radius:8px;box-shadow:0 5px 14px 1px rgba(10,2,30,.38),0 8px 44px 10px rgba(14,0,44,.38)"></div>
<div class="t" style="left:465.9px;transform:translateY(-50%);top:452.6px;font-size:7.8px;color:#e4e6ec;font-weight:400;">Total activity time</div>
<svg style="left:532.2px;top:448.8px" width="8" height="8" viewBox="0 0 8 8"><circle cx="4" cy="4" r="3.3" fill="none" stroke="#3c4051" stroke-width=".7"/><rect x="3.65" y="3.4" width=".7" height="2.4" fill="#3c4051"/><rect x="3.65" y="2.1" width=".7" height=".8" fill="#3c4051"/></svg>
<div class="t" style="right:413.6px;transform:translateY(-50%);top:452.6px;font-size:6.6px;color:#4a4f61;font-weight:400;">For selected month</div>
<div class="t" style="left:465.5px;transform:translateY(-50%);top:471.9px;font-size:15.2px;color:#f4f5f8;font-weight:400;letter-spacing:0.75px;-webkit-text-stroke:.45px #f4f5f8;">84 103</div>
<div class="t" style="left:519.6px;transform:translateY(-50%);top:474.8px;font-size:6.5px;color:#c5c8d2;font-weight:400;">hours</div>
<div class="abs" style="left:615.3px;top:469.8px;width:7.6px;height:7.6px;background:#2ec08f;border-radius:7.6px;"></div>
<svg style="left:615.3px;top:469.8px" width="7.6" height="7.6" viewBox="0 0 8 8"><path d="M4 1.900 L6 4.200 L4.600 4.200 L4.600 6.100 L3.400 6.100 L3.400 4.200 L2 4.200 Z" fill="#15805c"/></svg>
<div class="t" style="right:413.6px;transform:translateY(-50%);top:473.8px;font-size:6.5px;color:#1f9c73;font-weight:400;">+12.3%</div>
<div class="abs" style="left:453.4px;top:503.7px;width:208.4px;height:46.0px;background:#0b0e19;border-radius:8px;box-shadow:0 5px 14px 1px rgba(10,2,30,.38),0 8px 44px 10px rgba(14,0,44,.38)"></div>
<div class="t" style="left:465.9px;transform:translateY(-50%);top:516.2px;font-size:7.8px;color:#e4e6ec;font-weight:400;">Activity ratio</div>
<svg style="left:514.7px;top:512.4px" width="8" height="8" viewBox="0 0 8 8"><circle cx="4" cy="4" r="3.3" fill="none" stroke="#3c4051" stroke-width=".7"/><rect x="3.65" y="3.4" width=".7" height="2.4" fill="#3c4051"/><rect x="3.65" y="2.1" width=".7" height=".8" fill="#3c4051"/></svg>
<div class="t" style="right:413.6px;transform:translateY(-50%);top:516.2px;font-size:6.6px;color:#4a4f61;font-weight:400;">For selected month</div>
<div class="t" style="left:465.5px;transform:translateY(-50%);top:535.5px;font-size:15.2px;color:#f4f5f8;font-weight:400;letter-spacing:0.75px;-webkit-text-stroke:.45px #f4f5f8;">19 097</div>
<div class="t" style="left:519.6px;transform:translateY(-50%);top:538.4px;font-size:6.5px;color:#c5c8d2;font-weight:400;">hours</div>
<div class="abs" style="left:617.4px;top:533.4px;width:7.6px;height:7.6px;background:#d42258;border-radius:7.6px;"></div>
<svg style="left:617.4px;top:533.4px" width="7.6" height="7.6" viewBox="0 0 8 8"><path d="M4 1.900 L6 4.200 L4.600 4.200 L4.600 6.100 L3.400 6.100 L3.400 4.200 L2 4.200 Z" fill="#8e1238" transform="rotate(180 4 4)"/></svg>
<div class="t" style="right:413.6px;transform:translateY(-50%);top:537.4px;font-size:6.5px;color:#8a1c42;font-weight:400;">-12.3%</div>
<div class="abs" style="left:453.4px;top:573.5px;width:208.4px;height:45.0px;background:#0b0d19;border-radius:8px;box-shadow:0 5px 14px 1px rgba(10,2,30,.38),0 8px 44px 10px rgba(14,0,44,.38)"></div>
<div class="t" style="left:465.9px;transform:translateY(-50%);top:586.1px;font-size:7.8px;color:#5b6073;font-weight:400;">Average speed</div>
<svg style="left:522.0px;top:582.3px" width="8" height="8" viewBox="0 0 8 8"><circle cx="4" cy="4" r="3.3" fill="none" stroke="#23273a" stroke-width=".7"/><rect x="3.65" y="3.4" width=".7" height="2.4" fill="#23273a"/><rect x="3.65" y="2.1" width=".7" height=".8" fill="#23273a"/></svg>
<div class="t" style="right:413.6px;transform:translateY(-50%);top:586.1px;font-size:6.6px;color:#2e3243;font-weight:400;">For selected month</div>
<div class="t" style="left:465.5px;transform:translateY(-50%);top:604.5px;font-size:15.2px;color:#9ea2b0;font-weight:400;letter-spacing:0.4px;">12</div>
<div class="t" style="left:485.2px;transform:translateY(-50%);top:608.3px;font-size:6.3px;color:#4a4f60;font-weight:400;">km. per second</div>
<div class="abs" style="left:616.1px;top:602.8px;width:7.6px;height:7.6px;background:#1c7a5e;border-radius:7.6px;"></div>
<svg style="left:616.1px;top:602.8px" width="7.6" height="7.6" viewBox="0 0 8 8"><path d="M4 1.900 L6 4.200 L4.600 4.200 L4.600 6.100 L3.400 6.100 L3.400 4.200 L2 4.200 Z" fill="#0f4a3a"/></svg>
<div class="t" style="right:413.6px;transform:translateY(-50%);top:606.8px;font-size:6.5px;color:#17594a;font-weight:400;">+12.3%</div>
<div class="abs" style="left:682.8px;top:440.0px;width:147.4px;height:177.5px;background:#0b0e19;border-radius:8px;box-shadow:0 5px 14px 1px rgba(10,2,30,.38),0 8px 44px 10px rgba(14,0,44,.38)"></div>
<div class="t" style="left:692.3px;transform:translateY(-50%);top:452.3px;font-size:6.4px;color:#fff;font-weight:700;">Kaya-460</div>
<div class="t" style="left:692.3px;transform:translateY(-50%);top:462.3px;font-size:4.5px;color:#3a3f52;font-weight:400;">First connection</div>
<div class="t" style="left:692.3px;transform:translateY(-50%);top:469.8px;font-size:4.1px;color:#e4e6ec;font-weight:700;">12.03.2022</div>
<div class="t" style="left:753.0px;transform:translate(-50%,-50%);top:602.0px;font-size:4.4px;color:#474c5e;font-weight:400;">View Activity Graph</div>
<svg style="left:682.8px;top:440px" width="147.4" height="177.5" viewBox="0 0 147.4 177.5">
<defs><filter id="hb" x="-20%" y="-20%" width="140%" height="140%"><feGaussianBlur stdDeviation=".8"/></filter>
<radialGradient id="cupg" cx=".45" cy=".45" r=".6"><stop offset="0" stop-color="#111219"/><stop offset="1" stop-color="#0b0c12"/></radialGradient>
<linearGradient id="hbg" x1="0" y1="0" x2="1" y2="0"><stop offset="0" stop-color="#191b23"/><stop offset=".5" stop-color="#262831"/><stop offset="1" stop-color="#1f2129"/></linearGradient></defs>
<g filter="url(#hb)">
<path d="M44.9 105.7 C45.5 99 47 93 48.600 88.2 C50.5 80 53 73 55.8 66.4 C58 60 60.5 55 63.1 50.4 C65.5 46.500 68 43.500 70.4 41.6 C74 39 78 38 82 38 C86.500 38 90.500 39 93.7 40.9 C96.500 42.500 98.500 44 99.5 46 C101 50 101.700 54.500 101.7 59.1 C101.700 64 100.800 69 99.5 73.6 L91.5 73.6 C91.800 69 91.500 64 90.8 59.1 C90 55 88.500 51 86.4 48.2 C84.500 47.200 82.500 47.500 80.6 48.9 C78 51.500 75.500 55 73.3 59.1 C71 63.500 69 68.500 67.5 73.6 C65 79.500 63 85.500 61.7 91.1 C60.800 96 60.400 101 60.2 105.7 Z" fill="url(#hbg)"/>
<path d="M70.400 41.600 C74 39 78 38 82 38 C86.500 38 90.500 39 93.700 40.900 C96.500 42.500 98.500 44 99.500 46 C101 50 101.700 54.500 101.700 59.100 L96.500 60 C96 54 94 49 90.500 46 C86.500 43.500 80 44 76 47 Z" fill="#292b34"/>
<path d="M87 44 C88.500 50 89.500 58 89.800 68" fill="none" stroke="#383a44" stroke-width=".9"/><path d="M93.700 40.900 C96.500 42.500 98.500 44 99.500 46 C101 50 101.700 54.500 101.700 59.100 C101.700 64 100.800 69 99.500 73.600 L94.500 73.600 C95.500 66 95.500 55 92 47 Z" fill="#2b2d37"/><path d="M44.9 94 C43.200 99 42.800 104 43.5 108.6 C45 113.500 47.500 117 50 118.8 C53.500 121 57 122 60.2 121.7 C64 121.200 67.500 119.500 70.4 117.3 L64 92 C58 88 49 89 44.900 94Z" fill="#14161c"/>
<path d="M44.9 105.7 C45.5 99 47 93 48.600 88.2 C50.5 80 53 73 55.8 66.4 C58 60 60.5 55 63.1 50.4 C65.5 46.500 68 43.500 70.4 41.6 C74 39 78 38 82 38" fill="none" stroke="#2c2e37" stroke-width="1"/><ellipse cx="85.2" cy="97.6" rx="20.6" ry="22.2" transform="rotate(14 85.2 97.6)" fill="#1b1d25"/>
<ellipse cx="85.4" cy="97.7" rx="17.6" ry="19.2" transform="rotate(14 85.4 97.7)" fill="url(#cupg)" stroke="#681a30" stroke-width="1.1"/>
<path d="M80.200 96.600 L82.100 98.700 L83.600 96 L85.200 98.700 L87.100 96.600 L86.700 101 C86 103.600 81.300 103.600 80.600 101Z" fill="#9e1c4c"/>
<path d="M23.100 79.500 C25 77.500 28.500 80 31 83.500 C33.500 86.500 34.800 88.800 33.600 89.600 C32 90.300 29 87.500 26.500 85 C24.500 83 22.500 81 23.100 79.500Z" fill="#181a22"/>
</g>
</svg>
<div class="abs" style="left:453.6px;top:638.4px;width:640.0px;height:120.0px;background:#090c17;border-radius:8px;box-shadow:0 -3px 14px 2px rgba(10,2,30,.55)"></div>
<div class="t" style="left:463.0px;transform:translateY(-50%);top:653.5px;font-size:8px;color:#434859;font-weight:700;">Steller 913</div>
<div class="t" style="left:568.5px;transform:translateY(-50%);top:653.2px;font-size:6.9px;color:#333748;font-weight:400;">Activity time (h)</div>
<div class="t" style="left:980.6px;transform:translateY(-50%);top:653.2px;font-size:6.6px;color:#1f2333;font-weight:400;">Total Activity time | M h</div>
<div class="abs" style="left:585.6px;top:675.2px;width:17.6px;height:60.0px;background:linear-gradient(180deg,#36097a,#2b0864);border-radius:0px;"></div>
<div class="abs" style="left:674.4px;top:675.2px;width:17.6px;height:60.0px;background:linear-gradient(180deg,#36097a,#2b0864);border-radius:0px;"></div>
<div class="abs" style="left:696.6px;top:675.2px;width:17.6px;height:60.0px;background:linear-gradient(180deg,#36097a,#2b0864);border-radius:0px;"></div>
<div class="abs" style="left:718.8px;top:675.2px;width:17.6px;height:60.0px;background:linear-gradient(180deg,#36097a,#2b0864);border-radius:0px;"></div>
<div class="abs" style="left:741.0px;top:675.2px;width:17.6px;height:60.0px;background:linear-gradient(180deg,#36097a,#2b0864);border-radius:0px;"></div>
<div class="abs" style="left:785.4px;top:675.2px;width:17.6px;height:60.0px;background:linear-gradient(180deg,#36097a,#2b0864);border-radius:0px;"></div>
<div class="abs" style="left:807.6px;top:675.2px;width:17.6px;height:60.0px;background:linear-gradient(180deg,#36097a,#2b0864);border-radius:0px;"></div>
<div class="abs" style="left:829.8px;top:675.2px;width:17.6px;height:60.0px;background:linear-gradient(180deg,#36097a,#2b0864);border-radius:0px;"></div>
<div class="abs" style="left:852.0px;top:675.2px;width:17.6px;height:60.0px;background:linear-gradient(180deg,#36097a,#2b0864);border-radius:0px;"></div>
<div class="abs" style="left:1051.8px;top:675.2px;width:17.6px;height:60.0px;background:linear-gradient(180deg,#36097a,#2b0864);border-radius:0px;"></div>
</div>
</body>
</html>
